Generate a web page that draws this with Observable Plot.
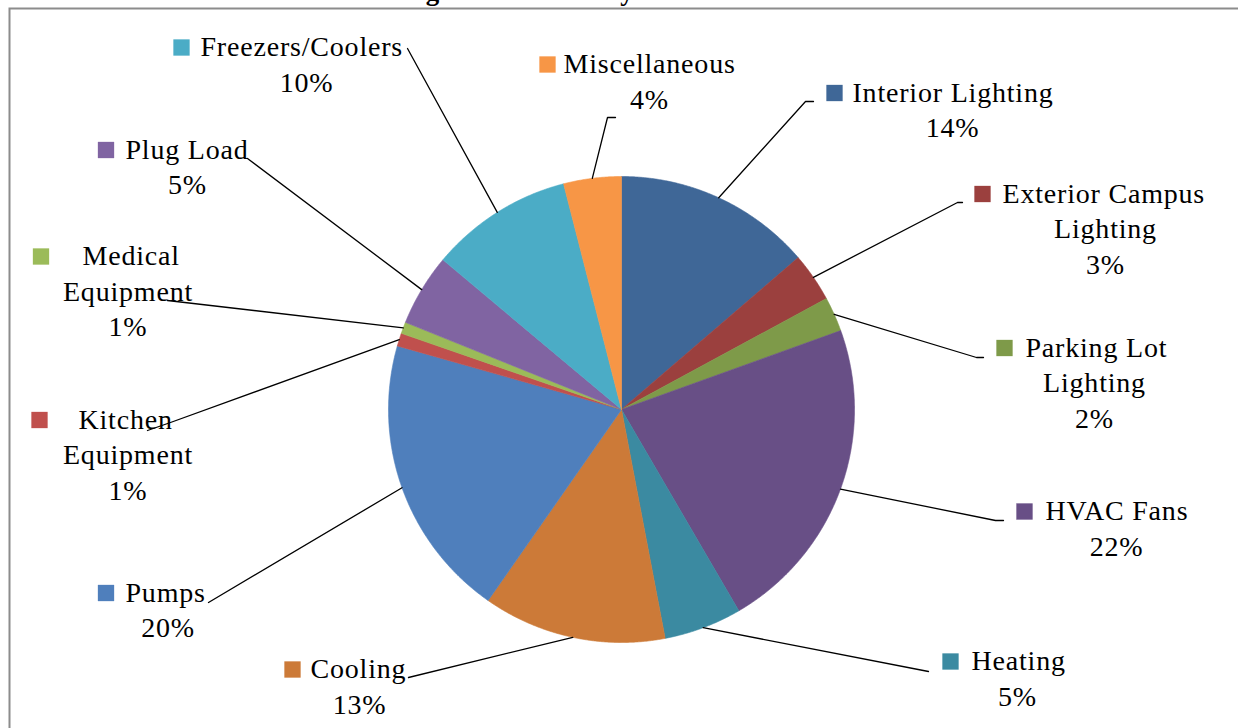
<!DOCTYPE html>
<html><head><meta charset="utf-8">
<script src="https://cdn.jsdelivr.net/npm/d3@7"></script>
<script src="https://cdn.jsdelivr.net/npm/@observablehq/plot@0.6"></script>
<style>
html,body{margin:0;padding:0;background:#fff;overflow:hidden;width:1238px;height:728px}
#wrap{position:relative;width:1238px;height:728px;overflow:hidden}
#chart{position:absolute;left:0;top:0}
#title{position:absolute;left:0;top:-22px;width:1224px;text-align:center;margin:0;font:bold 27px "Liberation Serif",serif;line-height:27px;color:#000}
</style></head><body>
<div id="wrap"><div id="chart"></div><h2 id="title">Figure 4: Electricity Use Breakdown</h2></div>
<script>
// ---- data ----
const categories = ["Interior Lighting","Exterior Campus Lighting","Parking Lot Lighting","HVAC Fans","Heating","Cooling","Pumps","Kitchen Equipment","Medical Equipment","Plug Load","Freezers/Coolers","Miscellaneous"];
const shares = [13.7, 3.4, 2.4, 22.1, 5.4, 12.7, 19.7, 0.9, 0.8, 5.0, 9.9, 4.0];
const colors = ["#3F6797","#9B403E","#7E9A49","#684F86","#3B8AA1","#CC7A38","#4F7FBC","#C0504D","#9BBB59","#8064A2","#4BACC6","#F79646"];
const labelLines = [["Interior Lighting"],["Exterior Campus","Lighting"],["Parking Lot","Lighting"],["HVAC Fans"],["Heating"],["Cooling"],["Pumps"],["Kitchen","Equipment"],["Medical","Equipment"],["Plug Load"],["Freezers/Coolers"],["Miscellaneous"]];

// ---- layout ----
const W = 1238, H = 728;
const pieCenter = {x: 621, y: 409}, pieR = 233;
const keyX = [834, 982, 1004, 1024, 950, 292, 105.5, 39, 40.5, 105.5, 181, 547];
const keyY = [92.5, 193.5, 347.5, 511, 661, 669, 592.5, 419.5, 256, 149.5, 47, 64];
const nameX = [852, 1002, 1025, 1045, 971, 310, 125, 78, 82, 125, 200, 563];
const blockX = [952, 1105, 1094, 1116, 1017, 359, 167.5, 127.5, 127.5, 187, 306, 649];
const lineStep = 35.5;
const leaderFrom = [[[813,101],[805,101]],[[962,202],[957,202]],[[983,357],[976,357]],[[1003,520],[995,520]],[[928,671]],[[408,677]],[[208,602]],[[147,430],[170,422]],[[167,300]],[[247,158]],[[407,48]],[[615,117],[607,117]]];

const arcs = d3.pie().sort(null).value(d => d)(shares);
const pt = a => ({x: pieCenter.x + pieR * Math.sin(a), y: pieCenter.y - pieR * Math.cos(a)});

const slices = [];
arcs.forEach((a, i) => {
  const cat = categories[i];
  slices.push({cat, x: pieCenter.x, y: pieCenter.y});
  const n = Math.max(2, Math.ceil((a.endAngle - a.startAngle) / 0.005));
  for (let k = 0; k <= n; k++) {
    const p = pt(a.startAngle + (a.endAngle - a.startAngle) * k / n);
    slices.push({cat, x: p.x, y: p.y});
  }
  slices.push({cat, x: pieCenter.x, y: pieCenter.y});
});

const leaders = [];
arcs.forEach((a, i) => {
  const cat = categories[i];
  leaderFrom[i].forEach(([x, y]) => leaders.push({cat, x, y}));
  const p = pt((a.startAngle + a.endAngle) / 2);
  leaders.push({cat, x: p.x, y: p.y});
});

const keys = categories.map((cat, i) => ({cat, x: keyX[i], y: keyY[i]}));
const firstLines = categories.map((cat, i) => ({text: labelLines[i][0], x: nameX[i], y: keyY[i]}));
const otherLines = [];
categories.forEach((cat, i) => {
  const lines = labelLines[i].slice(1).concat([Math.round(shares[i]) + "%"]);
  lines.forEach((t, k) => otherLines.push({text: t, x: blockX[i], y: keyY[i] + (k + 1) * lineStep}));
});

const font = {fontSize: 28, fontFamily: "'Liberation Serif', 'Times New Roman', serif", fill: "#000"};

const chart = Plot.plot({
  width: W, height: H,
  margin: 0,
  x: {domain: [0, W], range: [0, W], axis: null},
  y: {domain: [0, H], range: [0, H], axis: null},
  color: {domain: categories, range: colors},
  style: {background: "#fff", letterSpacing: "0.8px"},
  marks: [
    Plot.frame({stroke: "#8c8c8c", strokeWidth: 2, insetLeft: 9, insetTop: 8, insetRight: -10, insetBottom: -10}),
    Plot.line(slices, {x: "x", y: "y", z: "cat", fill: "cat", stroke: "cat", strokeWidth: 0.6, curve: "linear"}),
    Plot.line(leaders, {x: "x", y: "y", z: "cat", stroke: "#000", strokeWidth: 1.3, curve: "linear"}),
    Plot.dot(keys, {x: "x", y: "y", fill: "cat", symbol: "square", r: 9.2, stroke: null}),
    Plot.text(firstLines, {x: "x", y: "y", text: "text", textAnchor: "start", ...font}),
    Plot.text(otherLines, {x: "x", y: "y", text: "text", textAnchor: "middle", ...font})
  ]
});
document.getElementById("chart").appendChild(chart);
</script>
</body></html>
